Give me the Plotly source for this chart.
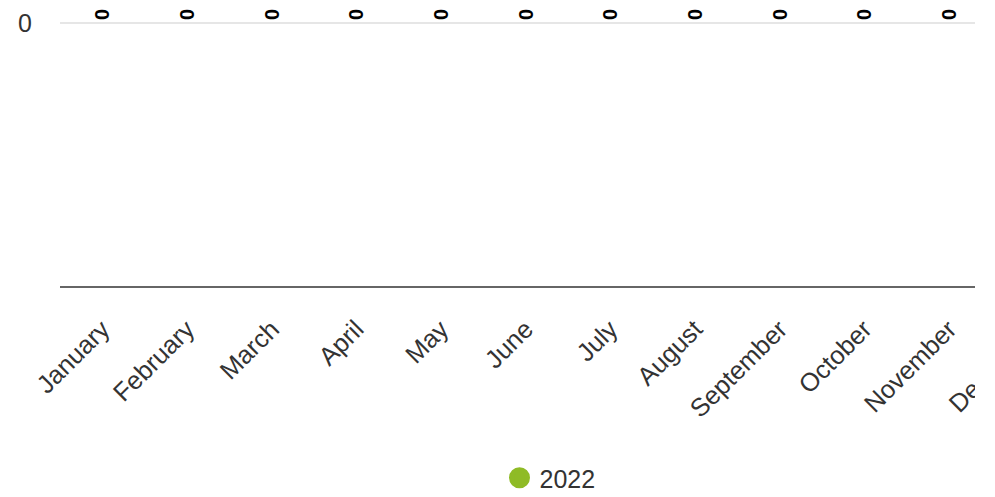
import plotly.graph_objects as go

months = ["January", "February", "March", "April", "May", "June", "July",
          "August", "September", "October", "November", "December"]
values_2022 = [0, 0, 0, 0, 0, 0, 0, 0, 0, 0, 0, 0]
series_name = "2022"
y_ticks = [0]

green = "#8fbb26"
font_family = "Liberation Sans, Arial, Helvetica, sans-serif"

fig_w, m_l, m_r = 1084, 52, 16
clip_x = 967  # container clips content on the right (figure px)

fig = go.Figure()
fig.add_trace(go.Bar(
    x=months, y=values_2022, name=series_name,
    marker_color=green, marker_line_width=0, showlegend=False,
    text=[str(v) for v in values_2022],
    textposition="outside", textangle=-90,
    constraintext="none", cliponaxis=False,
    textfont=dict(family=font_family, size=20, color="#000000", weight="bold",
                  shadow="0 0 2px #ffffff, 0 0 2px #ffffff, 0 0 2px #ffffff"),
))
fig.add_trace(go.Scatter(
    x=[None], y=[None], mode="markers", name=series_name,
    marker=dict(color=green, size=16, symbol="circle",
                line=dict(color=green, width=5)),
    showlegend=True,
))

plot_w = fig_w - m_l - m_r
fig.add_shape(type="rect", xref="paper", yref="paper", layer="above",
              x0=(clip_x - m_l) / plot_w, x1=1.2, y0=-0.95, y1=1.2,
              fillcolor="#ffffff", line_width=0)

fig.update_layout(
    width=fig_w, height=497,
    margin=dict(l=m_l, r=m_r, t=14, b=219),
    paper_bgcolor="#ffffff", plot_bgcolor="#ffffff",
    font=dict(family=font_family, color="#333333"),
    showlegend=True,
    legend=dict(orientation="h", xref="container", yref="container",
                x=0.5, xanchor="center", y=1 - 470 / 497, yanchor="middle",
                font=dict(size=25, color="#333333"), itemsizing="trace"),
    bargap=0.2,
)
fig.update_xaxes(
    showline=True, linecolor="#666666", linewidth=2,
    showgrid=False, ticks="", tickangle=-45,
    tickfont=dict(size=25.5, color="#333333"),
    ticklabelstandoff=16, automargin=False,
)
fig.update_yaxes(
    range=[-1, 0.004], tickvals=y_ticks, ticktext=[str(t) for t in y_ticks],
    showgrid=True, gridcolor="#e6e6e6", gridwidth=2, zeroline=False,
    showline=False, tickfont=dict(size=25, color="#333333"),
    ticklabelstandoff=27, automargin=False,
)

fig.write_html("out.html")
